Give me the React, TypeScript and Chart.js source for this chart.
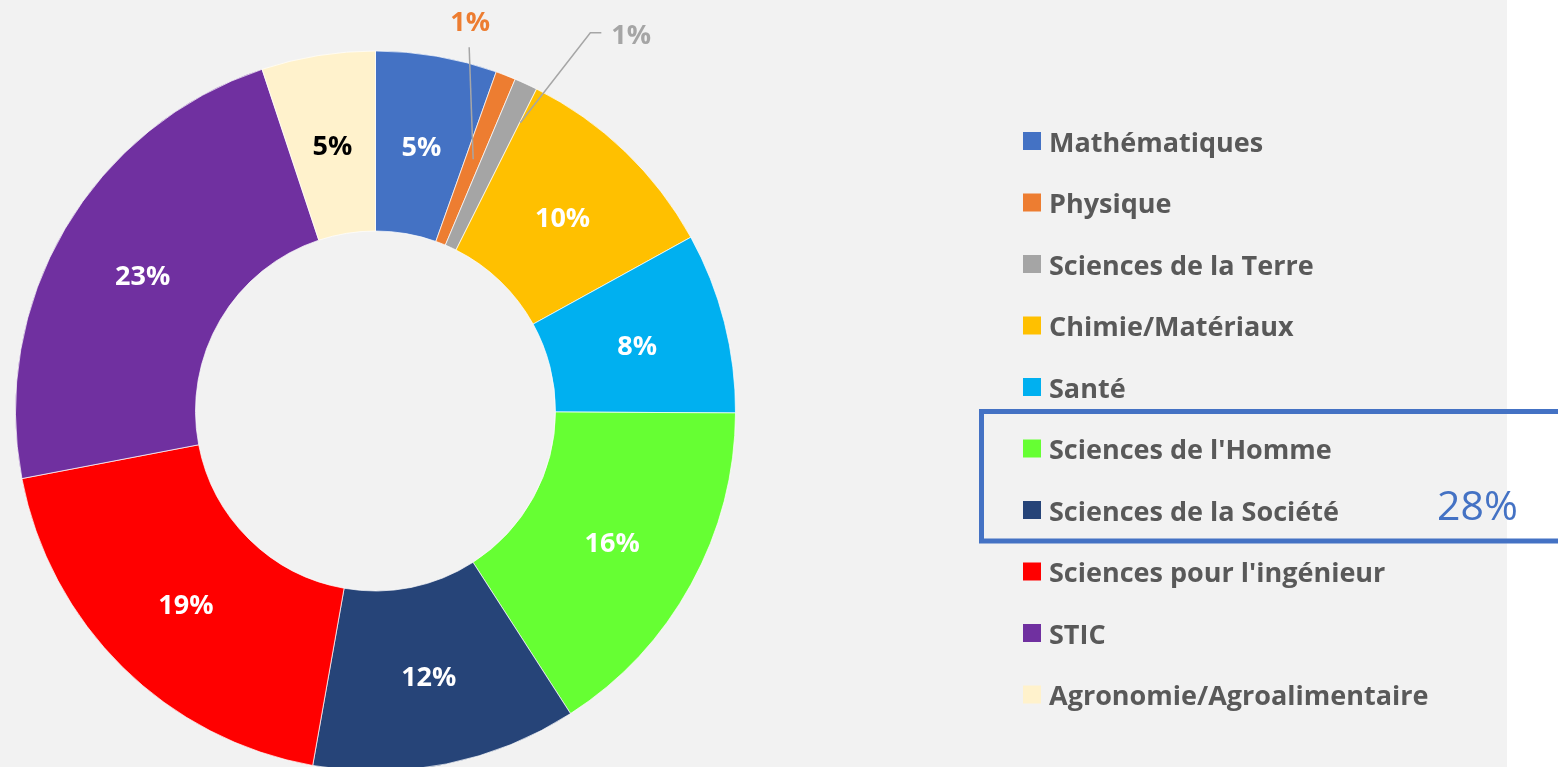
import React, { useEffect, useRef } from "react";
import { Chart, registerables } from "chart.js";

Chart.register(...registerables);

// ---- data ----
const categories = [
  "Mathématiques",
  "Physique",
  "Sciences de la Terre",
  "Chimie/Matériaux",
  "Santé",
  "Sciences de l'Homme",
  "Sciences de la Société",
  "Sciences pour l'ingénieur",
  "STIC",
  "Agronomie/Agroalimentaire",
];
const shares = [5.44, 0.9, 1.04, 9.6, 8.1, 15.8, 11.9, 19.2, 22.9, 5.1];
const groupedCategories = ["Sciences de l'Homme", "Sciences de la Société"];

// ---- styles ----
const colors = ["#4472C4", "#ED7D31", "#A5A5A5", "#FFC000", "#00B0F0", "#66FF33", "#264478", "#FF0000", "#7030A0", "#FFF2CC"];
const labelColors = ["#FFFFFF", "#ED7D31", "#A5A5A5", "#FFFFFF", "#FFFFFF", "#FFFFFF", "#FFFFFF", "#FFFFFF", "#FFFFFF", "#000000"];
const FONT = '"Open Sans", "Noto Sans", sans-serif';
const W = 1558;
const H = 767;
const TEXT_DY = 3;

// leader-line layouts for small slices (offsets relative to slice centre point)
const leaders: Record<number, { pts: number[][]; label: number[]; align: CanvasTextAlign }> = {
  1: { pts: [[0, 0], [-4, -112]], label: [-3, -139], align: "center" },
  2: { pts: [[32, -43], [102, -133], [113, -133]], label: [123, -132], align: "left" },
};

const legendLayout = { squareX: 1023, textX: 1049, top: 141, step: 61.5, square: 18 };

const bgPlugin = {
  id: "bg",
  beforeDraw(chart: any) {
    const ctx = chart.ctx;
    ctx.save();
    ctx.fillStyle = "#FFFFFF";
    ctx.fillRect(0, 0, chart.width, chart.height);
    ctx.fillStyle = "#F2F2F2";
    ctx.fillRect(0, 0, 1507, chart.height);
    ctx.restore();
  },
};

const labelPlugin = {
  id: "sliceLabels",
  afterDatasetsDraw(chart: any) {
    const ctx = chart.ctx;
    const meta = chart.getDatasetMeta(0);
    const data: number[] = chart.data.datasets[0].data;
    const total = data.reduce((a, b) => a + b, 0);
    ctx.save();
    ctx.font = `bold 27px ${FONT}`;
    ctx.textBaseline = "middle";
    meta.data.forEach((arc: any, i: number) => {
      const p = arc.getProps(["x", "y", "startAngle", "endAngle", "innerRadius", "outerRadius"], true);
      const mid = (p.startAngle + p.endAngle) / 2;
      const r = (p.innerRadius + p.outerRadius) / 2;
      const cx = p.x + Math.cos(mid) * r;
      const cy = p.y + Math.sin(mid) * r;
      const txt = Math.round((data[i] / total) * 100) + "%";
      ctx.fillStyle = labelColors[i];
      const ld = leaders[i];
      if (ld) {
        ctx.strokeStyle = "#A6A6A6";
        ctx.lineWidth = 1.5;
        ctx.beginPath();
        ld.pts.forEach((q, k) => {
          if (k === 0) ctx.moveTo(cx + q[0], cy + q[1]);
          else ctx.lineTo(cx + q[0], cy + q[1]);
        });
        ctx.stroke();
        ctx.textAlign = ld.align;
        ctx.fillText(txt, cx + ld.label[0], cy + ld.label[1] + TEXT_DY);
      } else {
        ctx.textAlign = "center";
        ctx.fillText(txt, cx, cy + TEXT_DY);
      }
    });
    ctx.restore();
  },
  afterDraw(chart: any) {
    const ctx = chart.ctx;
    const labels: string[] = chart.data.labels;
    const bg: string[] = chart.data.datasets[0].backgroundColor;
    const data: number[] = chart.data.datasets[0].data;
    const total = data.reduce((a, b) => a + b, 0);
    const L = legendLayout;
    ctx.save();
    ctx.font = `bold 27px ${FONT}`;
    ctx.textBaseline = "middle";
    ctx.textAlign = "left";
    labels.forEach((lab, i) => {
      const y = L.top + i * L.step;
      ctx.fillStyle = bg[i];
      ctx.fillRect(L.squareX, y - L.square / 2, L.square, L.square);
      ctx.fillStyle = "#595959";
      ctx.fillText(lab, L.textX, y + TEXT_DY);
    });
    // group box
    const idx = groupedCategories.map((c) => labels.indexOf(c));
    const first = Math.min(...idx);
    const last = Math.max(...idx);
    const top = L.top + first * L.step - 37;
    const bottom = L.top + last * L.step + 31;
    ctx.strokeStyle = "#4472C4";
    ctx.lineWidth = 5;
    ctx.strokeRect(981.5, top, W + 20 - 981.5, bottom - top);
    const groupPct = Math.round(idx.reduce((s, k) => s + (data[k] / total) * 100, 0));
    ctx.font = `41px ${FONT}`;
    ctx.fillStyle = "#4472C4";
    ctx.textAlign = "left";
    ctx.fillText(groupPct + "%", 1437, L.top + last * L.step - 5 + TEXT_DY);
    ctx.restore();
  },
};

export default function App() {
  const ref = useRef<HTMLCanvasElement>(null);
  useEffect(() => {
    document.body.style.margin = "0";
    document.body.style.overflow = "hidden";
    const chart = new Chart(ref.current as HTMLCanvasElement, {
      type: "doughnut",
      data: {
        labels: categories,
        datasets: [
          {
            data: shares,
            backgroundColor: colors,
            borderColor: "rgba(255,255,255,0.7)",
            borderWidth: 1,
            hoverOffset: 0,
          },
        ],
      },
      options: {
        responsive: false,
        animation: false,
        devicePixelRatio: 1,
        radius: 360,
        cutout: "50%",
        events: [],
        layout: { padding: { left: 16, right: 823, top: 55, bottom: 0 } },
        plugins: { legend: { display: false }, tooltip: { enabled: false } },
      } as any,
      plugins: [bgPlugin, labelPlugin],
    });
    return () => chart.destroy();
  }, []);
  return (
    <div style={{ width: W, height: H, overflow: "hidden" }}>
      <canvas ref={ref} width={W} height={H} style={{ display: "block", width: W, height: H }} />
    </div>
  );
}
